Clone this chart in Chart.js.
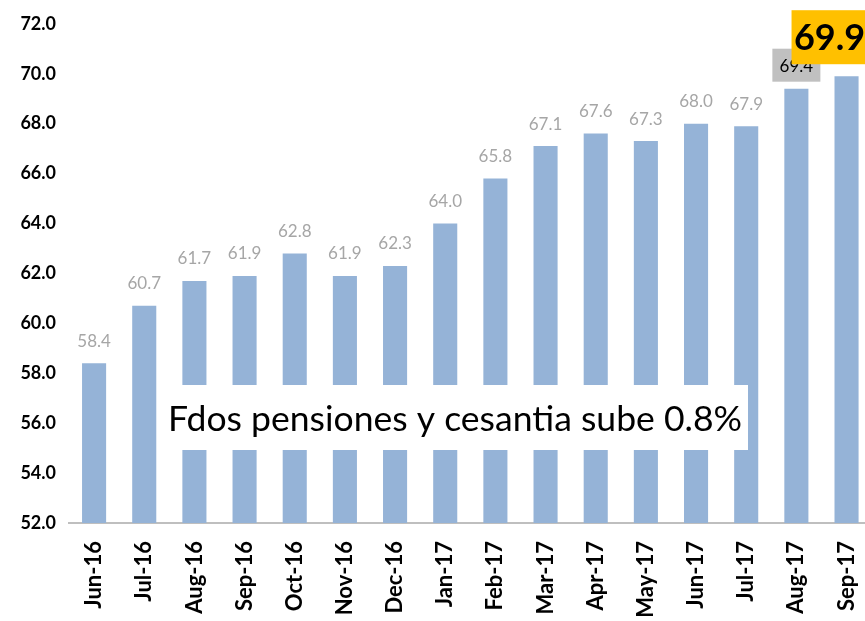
<!DOCTYPE html>
<html>
<head>
<meta charset="utf-8">
<script src="https://cdn.jsdelivr.net/npm/chart.js@4/dist/chart.umd.min.js"></script>
<style>
  html, body { margin: 0; padding: 0; background: #ffffff; overflow: hidden; }
  #wrap { width: 891px; height: 621px; }
</style>
</head>
<body>
<div id="wrap"><canvas id="c" width="891" height="621"></canvas></div>
<script>
const categories = ["Jun-16","Jul-16","Aug-16","Sep-16","Oct-16","Nov-16","Dec-16","Jan-17","Feb-17","Mar-17","Apr-17","May-17","Jun-17","Jul-17","Aug-17","Sep-17"];
const fundValues = [58.4, 60.7, 61.7, 61.9, 62.8, 61.9, 62.3, 64.0, 65.8, 67.1, 67.6, 67.3, 68.0, 67.9, 69.4, 69.9];
const yTicks = [52, 54, 56, 58, 60, 62, 64, 66, 68, 70, 72];
const annotationText = "Fdos pensiones y cesantia sube 0.8%";

const labelPlugin = {
  id: 'valueLabels',
  afterDatasetsDraw(chart) {
    const ctx = chart.ctx;
    const meta = chart.getDatasetMeta(0);
    const n = meta.data.length;
    ctx.save();
    ctx.textAlign = 'center';
    ctx.textBaseline = 'middle';
    meta.data.forEach((bar, i) => {
      const v = fundValues[i].toFixed(1);
      if (i === n - 2) {
        ctx.fillStyle = '#c0c0c0';
        ctx.fillRect(bar.x - 24, bar.y - 40, 48, 33);
        ctx.fillStyle = '#000000';
        ctx.font = '17px Lato';
        ctx.fillText(v, bar.x, bar.y - 22);
      } else if (i === n - 1) {
        ctx.fillStyle = '#ffc000';
        ctx.fillRect(bar.x - 55, bar.y - 66, 110, 54);
        ctx.fillStyle = '#000000';
        ctx.font = 'bold 36px Lato';
        ctx.fillText(v, bar.x - 17, bar.y - 38);
      } else {
        ctx.fillStyle = '#a6a6a6';
        ctx.font = '17px Lato';
        ctx.fillText(v, bar.x, bar.y - 22);
      }
    });
    ctx.fillStyle = '#ffffff';
    ctx.fillRect(160, 385, 588, 65);
    let size = 36;
    ctx.font = size + 'px Lato';
    const w = ctx.measureText(annotationText).width;
    size = size * 574 / w;
    ctx.font = size.toFixed(2) + 'px Lato';
    ctx.fillStyle = '#000000';
    ctx.textAlign = 'left';
    ctx.textBaseline = 'alphabetic';
    ctx.fillText(annotationText, 168, 431);
    ctx.restore();
  }
};

new Chart(document.getElementById('c'), {
  type: 'bar',
  data: {
    labels: categories,
    datasets: [{
      data: fundValues,
      backgroundColor: '#95b3d7',
      borderWidth: 0,
      categoryPercentage: 1.0,
      barPercentage: 0.48
    }]
  },
  options: {
    responsive: false,
    animation: false,
    events: [],
    layout: { padding: { top: 14, right: 2, bottom: 0, left: 0 } },
    plugins: { legend: { display: false }, tooltip: { enabled: false } },
    scales: {
      x: {
        grid: { display: false, drawTicks: false },
        border: { display: true, color: '#bfbfbf', width: 2 },
        ticks: {
          color: '#000000',
          font: { family: 'Lato', size: 22, weight: 'bold' },
          minRotation: 90,
          maxRotation: 90,
          padding: 18,
          autoSkip: false
        },
        afterFit(scale) { scale.height = 98; }
      },
      y: {
        min: 52,
        max: 72,
        grid: { display: false, drawTicks: false },
        border: { display: false },
        afterBuildTicks(scale) { scale.ticks = yTicks.map(v => ({ value: v })); },
        ticks: {
          color: '#000000',
          font: { family: 'Lato', size: 18, weight: 'bold' },
          padding: 13,
          callback: (v) => Number(v).toFixed(1)
        },
        afterFit(scale) { scale.width = 69; }
      }
    }
  },
  plugins: [labelPlugin]
});
</script>
</body>
</html>
